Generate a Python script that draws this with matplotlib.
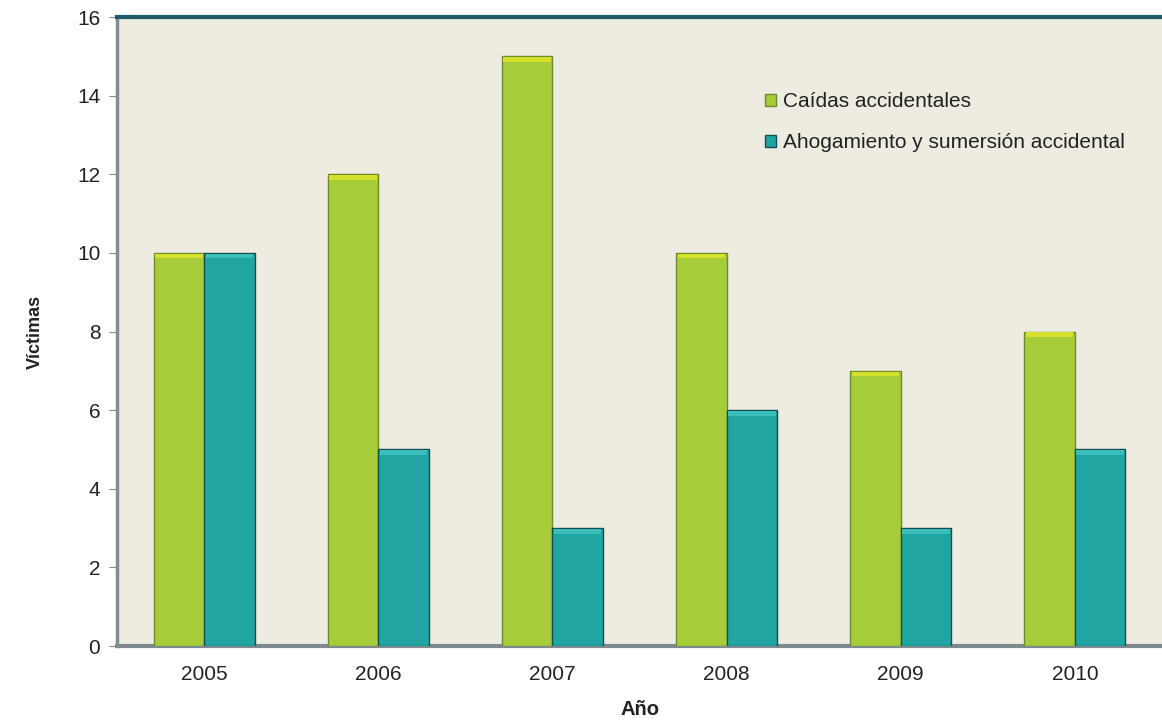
import matplotlib
matplotlib.use("Agg")
import matplotlib.pyplot as plt
import numpy as np

plt.rcParams['font.family'] = ['Liberation Sans', 'DejaVu Sans']

years = ['2005', '2006', '2007', '2008', '2009', '2010']
caidas = [10, 12, 15, 10, 7, 8]
ahogamiento = [10, 5, 3, 6, 3, 5]
labels = ['Caídas accidentales', 'Ahogamiento y sumersión accidental']

fig = plt.figure(figsize=(11.62, 7.27), dpi=100)
ax = fig.add_axes([0.1007, 0.1114, 0.8993, 0.8652])
ax.set_facecolor('#EEEBE0')

x = np.arange(len(years))
w = 0.29
b1 = ax.bar(x - w/2, caidas, w, color='#A6CC3A', edgecolor='#6E8A2A', linewidth=1.0, label=labels[0], zorder=3)
b2 = ax.bar(x + w/2, ahogamiento, w, color='#21A5A3', edgecolor='#0F4F50', linewidth=1.0, label=labels[1], zorder=3)

# highlight caps on bar tops
for bars, hc in ((b1, '#D4E02A'), (b2, '#3BBDBB')):
    for r in bars:
        ax.bar(r.get_x() + r.get_width()/2, 0.12, r.get_width()*0.94, bottom=r.get_height()-0.14,
               color=hc, linewidth=0, zorder=4)

ax.set_xlim(-0.5, len(years) - 0.5)
ax.set_ylim(0, 16)
ax.set_yticks(range(0, 17, 2))
ax.set_xticks(x)
ax.set_xticklabels(years)
ax.tick_params(axis='x', length=0, labelsize=15, pad=14, colors='#222222')
ax.tick_params(axis='y', length=6, color='#888888', labelsize=15, colors='#222222', direction='out', pad=6)

ax.spines['top'].set_color('#1F5A6A')
ax.spines['top'].set_linewidth(3)
ax.spines['left'].set_color('#7E8E92')
ax.spines['left'].set_linewidth(2.5)
ax.spines['bottom'].set_color('#7E8A8E')
ax.spines['bottom'].set_linewidth(3)
ax.spines['right'].set_visible(False)

ax.set_ylabel('Víctimas', fontsize=13, fontweight='bold', labelpad=24, color='#222222')
ax.set_xlabel('Año', fontsize=14.5, fontweight='bold', labelpad=11, color='#222222')

leg = ax.legend(handles=[b1, b2], loc='upper left', bbox_to_anchor=(0.602, 0.91), frameon=False,
                fontsize=15, handlelength=0.55, handleheight=0.55, handletextpad=0.3, labelspacing=1.05)
for t in leg.get_texts():
    t.set_color('#222222')

fig.savefig('out.png', dpi=100)
